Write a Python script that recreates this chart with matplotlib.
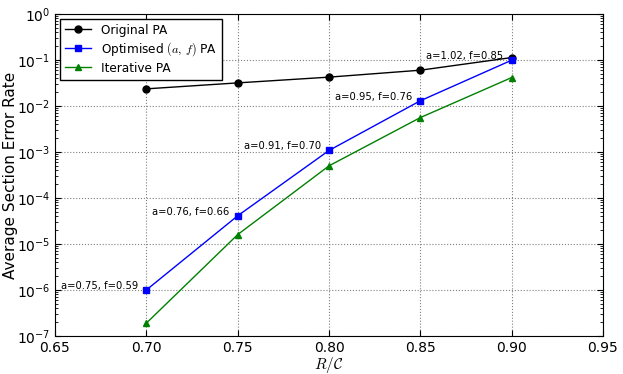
import matplotlib
matplotlib.use("Agg")
import matplotlib.pyplot as plt

plt.rcParams['mathtext.fontset'] = 'cm'

rate = [0.70, 0.75, 0.80, 0.85, 0.90]
original = [0.0236, 0.0318, 0.0424, 0.060, 0.113]
optimised = [1.0e-6, 4.1e-5, 1.08e-3, 0.013, 0.099]
iterative = [1.9e-7, 1.6e-5, 5.0e-4, 0.0056, 0.0415]
params = ["a=0.75, f=0.59", "a=0.76, f=0.66", "a=0.91, f=0.70",
          "a=0.95, f=0.76", "a=1.02, f=0.85"]

fig = plt.figure(figsize=(6.23, 3.74), dpi=100)
ax = fig.add_axes([55/623, 1-336/374, 548/623, 322/374])

ax.plot(rate, original, 'k-o', lw=1, ms=5, label='Original PA')
ax.plot(rate, optimised, 'b-s', lw=1, ms=5, label=r'Optimised $(a,\,f)$ PA')
ax.plot(rate, iterative, 'g-^', lw=1, ms=5, label='Iterative PA')

for xv, yv, txt in zip(rate, optimised, params):
    ax.annotate(txt, (xv, yv), xytext=(-6, 3), textcoords='offset points',
                ha='right', va='center', fontsize=7.2)

ax.set_yscale('log')
ax.set_xlim(0.65, 0.95)
ax.set_ylim(1e-7, 1)
ax.set_xticks([0.65, 0.70, 0.75, 0.80, 0.85, 0.90, 0.95])
ax.set_xticklabels(['0.65', '0.70', '0.75', '0.80', '0.85', '0.90', '0.95'])
ax.tick_params(which='both', direction='in', top=True, right=True)
ax.tick_params(labelsize=10, length=4)
ax.tick_params(which='minor', length=2)
ax.grid(True, which='major', ls=':', color='gray', lw=0.8)
ax.set_xlabel(r'$R/\mathcal{C}$', fontsize=11, labelpad=0)
ax.set_ylabel('Average Section Error Rate', fontsize=11)
ax.yaxis.set_label_coords(-0.068, 0.5)
ax.legend(loc='upper left', fontsize=8.7, fancybox=False, edgecolor='black',
          borderaxespad=0.4, handlelength=2.2, labelspacing=0.3,
          framealpha=1, borderpad=0.4)

fig.savefig('out.png', dpi=100)
